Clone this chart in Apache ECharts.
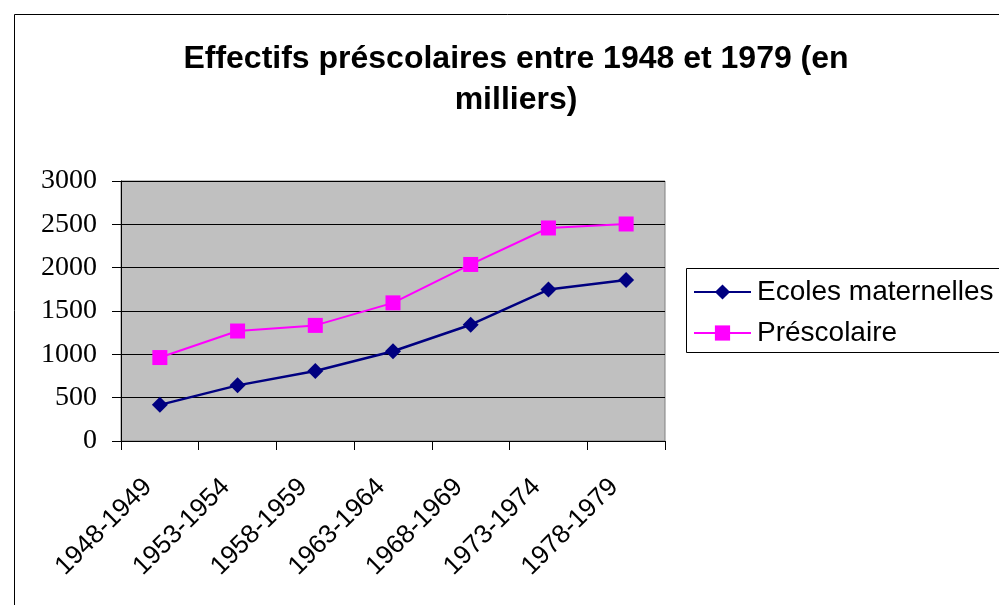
<!DOCTYPE html>
<html>
<head>
<meta charset="utf-8">
<script src="https://cdn.jsdelivr.net/npm/echarts@6/dist/echarts.min.js"></script>
<style>
  html, body { margin: 0; padding: 0; background: #fff; }
  #chart { width: 999px; height: 605px; }
</style>
</head>
<body>
<div id="chart"></div>
<script>
// data
const periods = ['1948-1949', '1953-1954', '1958-1959', '1963-1964', '1968-1969', '1973-1974', '1978-1979'];
const ecolesMaternelles = [417, 642, 807, 1036, 1342, 1747, 1858];
const prescolaire = [963, 1269, 1334, 1594, 2037, 2458, 2504];
const yTicks = [0, 500, 1000, 1500, 2000, 2500, 3000];

document.addEventListener('DOMContentLoaded', function () {
    const chart = echarts.init(document.getElementById('chart'));
    const option = {
        animation: false,
        title: {
            text: 'Effectifs préscolaires entre 1948 et 1979 (en\nmilliers)',
            left: 511,
            top: 34,
            textAlign: 'center',
            textStyle: {
                fontFamily: 'Liberation Sans, Arial',
                fontWeight: 'bold',
                fontSize: 32,
                lineHeight: 41,
                color: '#000'
            }
        },
        graphic: [
            {
                type: 'rect',
                shape: { x: 14.5, y: 14.5, width: 1000, height: 620 },
                style: { fill: 'none', stroke: '#000', lineWidth: 1 },
                silent: true
            },
            {
                type: 'rect',
                shape: { x: 686.5, y: 268.5, width: 330, height: 84 },
                style: { fill: '#fff', stroke: '#000', lineWidth: 1 },
                silent: true,
                z: 0
            }
        ],
        legend: {
            orient: 'vertical',
            left: 693,
            top: 278,
            padding: 0,
            itemGap: 13,
            itemWidth: 57,
            itemHeight: 19,
            textStyle: {
                fontFamily: 'Liberation Sans, Arial',
                fontSize: 28,
                color: '#000',
                padding: [0, 0, 0, 1]
            },
            data: ['Ecoles maternelles', 'Préscolaire'],
            z: 5
        },
        grid: {
            left: 121,
            top: 181,
            width: 544,
            height: 260,
            show: true,
            backgroundColor: '#c0c0c0',
            borderColor: '#808080',
            borderWidth: 1
        },
        xAxis: {
            type: 'category',
            data: periods,
            boundaryGap: true,
            axisLine: { lineStyle: { color: '#000', width: 1 } },
            axisTick: { show: true, length: 9, lineStyle: { color: '#000' } },
            axisLabel: {
                rotate: 45,
                margin: 30,
                padding: [0, 17, 0, 0],
                fontFamily: 'Liberation Sans, Arial',
                fontSize: 26,
                color: '#000'
            },
            splitLine: { show: false }
        },
        yAxis: {
            type: 'value',
            min: yTicks[0],
            max: yTicks[yTicks.length - 1],
            interval: 500,
            axisLine: { show: true, lineStyle: { color: '#000' } },
            axisTick: { show: true, length: 9, lineStyle: { color: '#000' } },
            axisLabel: {
                margin: 24,
                formatter: function (value) {
                    return String(value);
                },
                fontFamily: 'Liberation Serif, Times New Roman',
                fontSize: 28,
                color: '#000'
            },
            splitLine: { show: true, lineStyle: { color: '#000', width: 1 } }
        },
        series: [
            {
                name: 'Ecoles maternelles',
                type: 'line',
                data: ecolesMaternelles,
                symbol: 'diamond',
                symbolSize: 16,
                color: '#000080',
                lineStyle: { color: '#000080', width: 2.5 },
                itemStyle: { color: '#000080' },
                z: 4
            },
            {
                name: 'Préscolaire',
                type: 'line',
                data: prescolaire,
                symbol: 'rect',
                symbolSize: 15,
                color: '#ff00ff',
                lineStyle: { color: '#ff00ff', width: 2 },
                itemStyle: { color: '#ff00ff' },
                z: 3
            }
        ]
    };
    chart.setOption(option);
});
</script>
</body>
</html>
